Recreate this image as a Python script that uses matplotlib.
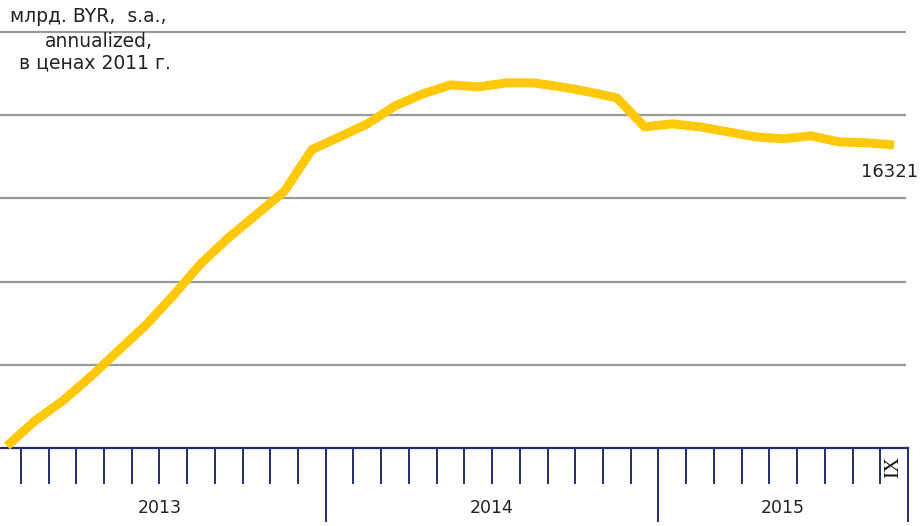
import matplotlib.pyplot as plt
from matplotlib.lines import Line2D

# ВВП, млрд. BYR, s.a., annualized, в ценах 2011 г. (I.2013 - IX.2015)
values = [14512, 14662, 14782, 14926, 15082, 15237, 15417, 15609, 15765, 15903,
          16041, 16293, 16370, 16448, 16556, 16628, 16682, 16670, 16694, 16694,
          16670, 16640, 16604, 16430, 16448, 16430, 16400, 16370, 16358, 16376,
          16340, 16334, 16321]
years = ["2013", "2014", "2015"]
months_in_year = [12, 12, 9]
last_month = "IX"
grid_levels = [15000, 15500, 16000, 16500, 17000]

axis_col = "#1f2d6b"
x = list(range(len(values)))

fig = plt.figure(figsize=(9.23, 5.26), dpi=100)
ax = fig.add_axes([0.0, 78 / 526, 908 / 923, 416 / 526])

ax.set_xlim(-0.25, len(values) - 0.5)
ax.set_ylim(14500, 17000)

for g in grid_levels:
    ax.axhline(g, xmax=0.997, color="#9a9a9a", lw=1.6, zorder=1, clip_on=False)

ax.plot(x, values, color="#ffc808", lw=6.5, solid_capstyle="butt",
        solid_joinstyle="round", zorder=3, clip_on=False)

ax.text(len(values) - 1 + 0.85, values[-1] - 110, str(values[-1]),
        ha="right", va="top", fontsize=13, color="#222222")

for s in ax.spines.values():
    s.set_visible(False)
ax.set_xticks([])
ax.set_yticks([])

# ось времени: месячные и годовые засечки
trans = ax.get_xaxis_transform()
ax.add_line(Line2D([-0.25, len(values) - 0.5], [0, 0], transform=trans,
                   color=axis_col, lw=1.6, clip_on=False))
short_len = 35 / 416
long_len = 73 / 416
pos = -0.5
for yr, n in zip(years, months_in_year):
    for m in range(n):
        if m > 0:
            ax.add_line(Line2D([pos + m, pos + m], [0, -short_len], transform=trans,
                               color=axis_col, lw=1.4, clip_on=False))
    ax.text(pos + n / 2, -0.145, yr, transform=trans, ha="center", va="center",
            fontsize=12.5, color="#222222")
    pos += n
    ax.add_line(Line2D([pos, pos], [0, -long_len], transform=trans,
                       color=axis_col, lw=1.4, clip_on=False))

ax.text(len(values) - 1, -0.045, last_month, transform=trans, rotation=90,
        ha="center", va="center", fontsize=15, family="Liberation Serif",
        color="#111111")

# подпись единиц измерения
fig.text(10 / 923, 1 - 17 / 526, "млрд. BYR,  s.a.,", ha="left", va="center",
         fontsize=13.5, color="#222222")
fig.text(99 / 923, 1 - 41 / 526, "annualized,", ha="center", va="center",
         fontsize=13.5, color="#222222")
fig.text(95 / 923, 1 - 63 / 526, "в ценах 2011 г.", ha="center", va="center",
         fontsize=13.5, color="#222222")

fig.savefig("out.png", dpi=100)
